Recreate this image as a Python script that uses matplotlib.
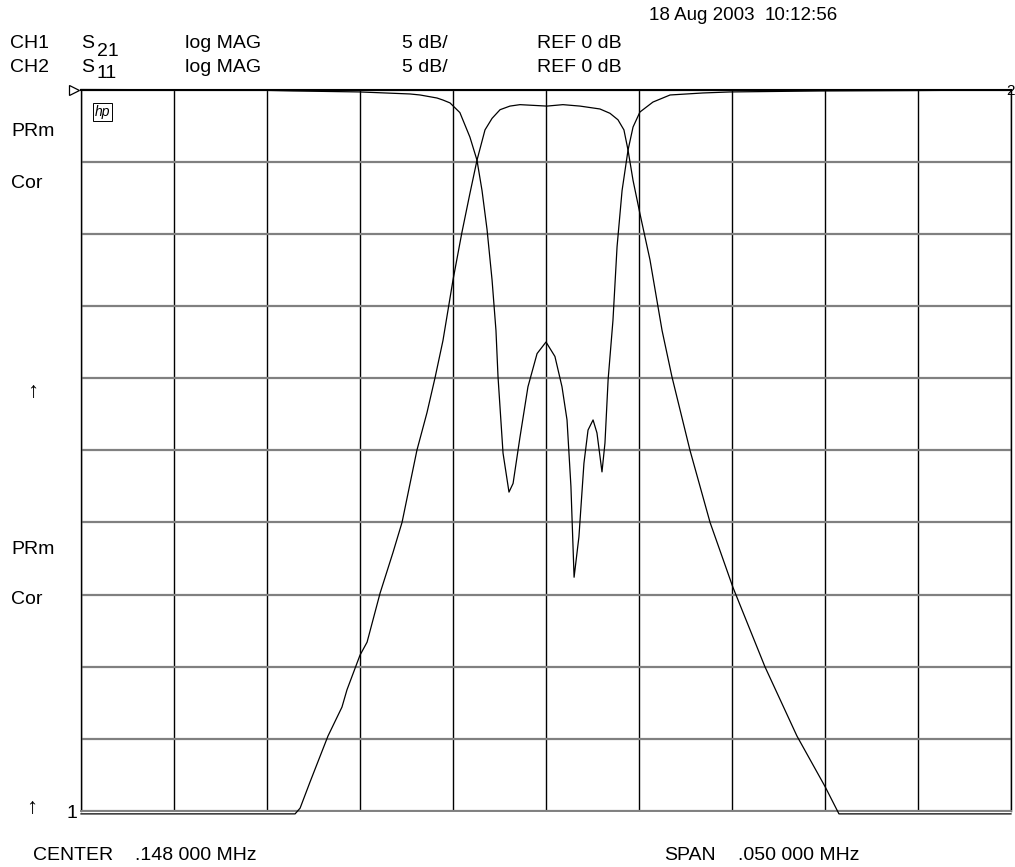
import matplotlib
matplotlib.use('Agg')
import matplotlib.pyplot as plt

plt.rcParams['font.family'] = ['Liberation Sans', 'DejaVu Sans']

# sweep: center 148 kHz, span 50 kHz, 5 dB/div, ref 0 dB at top
center_khz = 148.0
span_khz = 50.0
db_per_div = 5
n_div = 10

# CH1  S21 (transmission)
s21_freq = [123.0, 134.51, 134.78, 135.31, 136.28, 137.03, 137.30, 138.0, 138.38, 139.08,
            139.77, 140.26, 141.06, 141.60, 142.03, 142.46, 143.0, 143.48, 143.91, 144.29,
            144.72, 145.10, 145.53, 146.06, 146.60, 148.05, 148.91, 149.83, 150.90, 151.44,
            151.87, 152.19, 152.41, 152.68, 153.05, 153.59, 154.24, 154.77, 155.74, 156.82,
            158.05, 159.77, 161.49, 163.0, 163.75, 173.0]
s21_db = [-50.2, -50.2, -49.8, -48.0, -44.8, -42.8, -41.6, -39.2, -38.3, -34.9,
          -32.1, -30.0, -25.0, -22.4, -20.0, -17.4, -13.2, -9.9, -7.2, -4.9,
          -2.8, -2.0, -1.4, -1.15, -1.05, -1.15, -1.05, -1.15, -1.35, -1.65,
          -2.1, -2.8, -4.2, -6.3, -8.6, -11.8, -16.7, -19.9, -25.0, -30.0,
          -34.5, -40.0, -44.8, -48.3, -50.2, -50.2]

# CH2  S11 (reflection)
s11_freq = [123.0, 131.92, 134.40, 138.0, 140.69, 141.23, 142.14, 142.46, 142.84, 143.37,
            143.91, 144.29, 144.56, 144.83, 145.10, 145.31, 145.42, 145.69, 146.01, 146.23,
            146.60, 147.03, 147.52, 148.0, 148.48, 148.86, 149.13, 149.34, 149.51, 149.77,
            150.04, 150.26, 150.53, 150.74, 151.01, 151.17, 151.34, 151.60, 151.82, 152.09,
            152.41, 152.68, 153.05, 153.75, 154.67, 156.44, 157.89, 162.73, 168.11, 173.0]
s11_db = [0.0, -0.03, -0.1, -0.17, -0.31, -0.38, -0.59, -0.73, -0.93, -1.6,
          -3.3, -4.9, -7.0, -9.7, -13.2, -16.7, -19.9, -25.2, -27.9, -27.3,
          -24.1, -20.6, -18.3, -17.5, -18.5, -20.6, -22.9, -27.5, -33.8, -31.0,
          -25.9, -23.6, -22.9, -23.8, -26.5, -24.5, -20.1, -16.0, -10.9, -7.0,
          -4.2, -2.6, -1.56, -0.87, -0.38, -0.24, -0.17, -0.1, -0.07, -0.03]

W, H = 1015, 867
fig = plt.figure(figsize=(W / 100, H / 100), dpi=100)
ax = fig.add_axes([81 / W, 1 - 811 / H, 930 / W, (811 - 89.5) / H])

f0 = center_khz - span_khz / 2
f1 = center_khz + span_khz / 2
ax.set_xlim(f0, f1)
ax.set_ylim(-db_per_div * n_div, 0)
ax.set_xticks([f0 + i * span_khz / n_div for i in range(n_div + 1)])
ax.set_yticks([-i * db_per_div for i in range(n_div + 1)])
ax.tick_params(length=0, labelbottom=False, labelleft=False)
ax.xaxis.grid(True, color='black', lw=1.0)
ax.yaxis.grid(True, color='#808080', lw=1.6)
ax.set_axisbelow(True)
for side in ['left', 'right']:
    ax.spines[side].set_color('black')
    ax.spines[side].set_linewidth(1.0)
ax.spines['top'].set_color('black')
ax.spines['top'].set_linewidth(1.5)
ax.spines['bottom'].set_color('#808080')
ax.spines['bottom'].set_linewidth(1.4)

ax.plot(s21_freq, s21_db, color='black', lw=0.9, clip_on=False, zorder=3)
ax.plot(s11_freq, s11_db, color='black', lw=0.9, clip_on=False, zorder=3)

# reference position marker
ax.plot([-0.0075], [1.0], marker='>', ms=7, mfc='white', mec='black', mew=0.9,
        transform=ax.transAxes, clip_on=False)

fs = 14


def put(px, py, s, size=fs, **kw):
    fig.text(px / W, 1 - py / H, s, fontsize=size, va='center', **kw)


put(649, 16, '18 Aug 2003', size=13.5)
put(765, 16, '10:12:56', size=13.5)

put(10, 44, 'CH1')
put(81, 44, 'S')
put(97, 51, '21')
put(185, 44, 'log MAG')
put(402, 43, '5 dB/')
put(537, 43, 'REF 0 dB')

put(10, 67, 'CH2')
put(81, 67, 'S')
put(97, 74, '11')
put(185, 67, 'log MAG')
put(402, 67, '5 dB/')
put(537, 67, 'REF 0 dB')

put(11, 132, 'PRm')
put(11, 183, 'Cor')
put(33, 392, '\u2191', size=16, ha='center')
put(11, 549, 'PRm')
put(11, 599, 'Cor')
put(32, 808, '\u2191', size=16, ha='center')
put(66, 814, '1')
put(1015, 91, '2', size=11, ha='right')

put(33, 856, 'CENTER')
put(135, 856, '.148 000 MHz')
put(664, 856, 'SPAN')
put(738, 856, '.050 000 MHz')

# hp logo
put(95, 112, 'hp', size=10, style='italic',
    bbox=dict(boxstyle='square,pad=0.12', fc='none', ec='black', lw=0.7))

fig.savefig('out.png', dpi=100)
